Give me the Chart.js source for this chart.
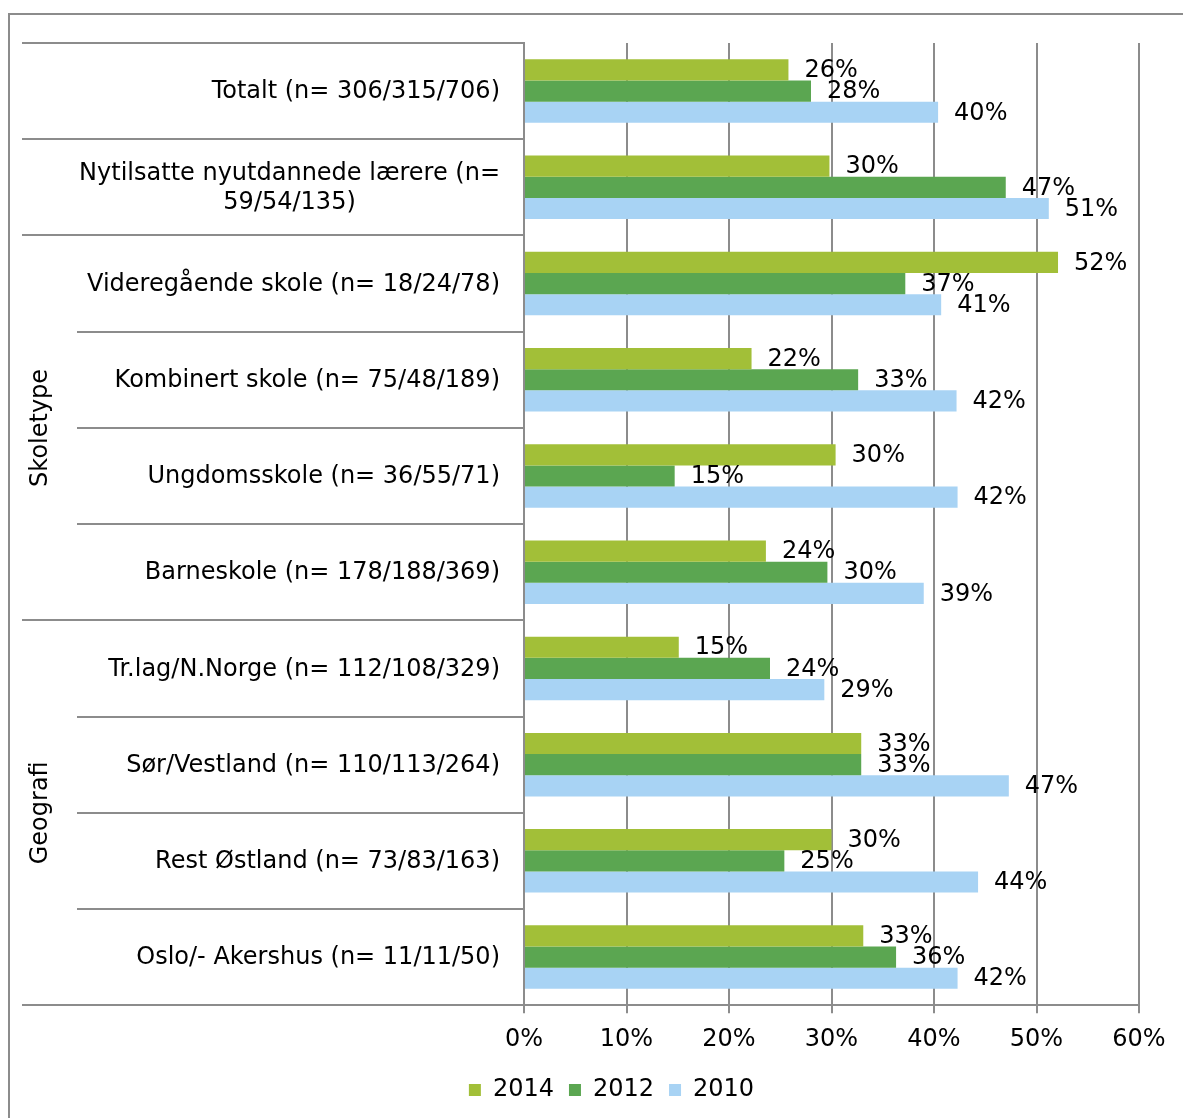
<!DOCTYPE html>
<html>
<head>
<meta charset="utf-8">
<script src="https://cdn.jsdelivr.net/npm/chart.js@4"></script>
<style>
  html, body { margin: 0; padding: 0; background: #fff; }
  #wrap { width: 1183px; height: 1118px; }
</style>
</head>
<body>
<div id="wrap"><canvas id="chart" width="1183" height="1118"></canvas></div>
<script>
/* ── Data ───────────────────────────────────────────────── */
const categories = [
  'Totalt (n= 306/315/706)',
  ['Nytilsatte nyutdannede lærere (n=', '59/54/135)'],
  'Videregående skole (n= 18/24/78)',
  'Kombinert skole (n= 75/48/189)',
  'Ungdomsskole (n= 36/55/71)',
  'Barneskole (n= 178/188/369)',
  'Tr.lag/N.Norge (n= 112/108/329)',
  'Sør/Vestland (n= 110/113/264)',
  'Rest Østland (n= 73/83/163)',
  'Oslo/- Akershus (n= 11/11/50)'
];
const seriesNames = ['2014', '2012', '2010'];
const v2014 = [25.8, 29.8, 52.1, 22.2, 30.4, 23.6, 15.1, 32.9, 30.0, 33.1];
const v2012 = [28.0, 47.0, 37.2, 32.6, 14.7, 29.6, 24.0, 32.9, 25.4, 36.3];
const v2010 = [40.4, 51.2, 40.7, 42.2, 42.3, 39.0, 29.3, 47.3, 44.3, 42.3];
const xTicks = [0, 10, 20, 30, 40, 50, 60];

const groupNames = ['Skoletype', 'Geografi'];
const groupStart = [2, 6];
const groupEnd   = [5, 9];

/* ── Styles ─────────────────────────────────────────────── */
const COLORS = ['#a2bf38', '#5ba651', '#a8d3f4'];
const LINE   = '#8c8c8c';
const FONT   = 'DejaVu Sans';
const FS     = 24;
Chart.defaults.font.family = FONT;
Chart.defaults.font.size = FS;
Chart.defaults.color = '#000';

/* ── Frame, row separators, category + group labels, value labels ── */
const sidePlugin = {
  id: 'side',
  beforeDraw(chart) {
    const c = chart.ctx;
    c.save();
    c.strokeStyle = LINE;
    c.lineWidth = 2;
    c.beginPath();
    c.moveTo(9, 1118); c.lineTo(9, 14); c.lineTo(1183, 14);
    c.stroke();
    c.restore();
  },
  afterDraw(chart) {
    const c = chart.ctx;
    const y = chart.scales.y;
    const area = chart.chartArea;
    const n = categories.length;
    const step = (area.bottom - area.top) / n;

    // row separators: long at group edges, short inside a group
    c.save();
    c.strokeStyle = LINE;
    c.lineWidth = 2;
    for (let i = 0; i <= n; i++) {
      const yy = Math.round(area.top + i * step);
      const inner = groupStart.some((s, k) => i > s && i <= groupEnd[k]);
      c.beginPath();
      c.moveTo(inner ? 77 : 22, yy);
      c.lineTo(area.left, yy);
      c.stroke();
    }
    c.restore();

    // category labels
    c.save();
    c.font = FS + 'px "' + FONT + '"';
    c.fillStyle = '#000';
    c.textBaseline = 'middle';
    const right = area.left - 24;
    categories.forEach((lab, i) => {
      const cy = y.getPixelForValue(i) + 1;
      if (Array.isArray(lab)) {
        const w = Math.max(...lab.map(s => c.measureText(s).width));
        const cx = right - w / 2;
        const lh = 29;
        c.textAlign = 'center';
        lab.forEach((s, k) => c.fillText(s, cx, cy + (k - (lab.length - 1) / 2) * lh));
      } else {
        c.textAlign = 'right';
        c.fillText(lab, right, cy);
      }
    });

    // group labels
    groupNames.forEach((g, k) => {
      const top = y.getPixelForValue(groupStart[k]) - step / 2;
      const bot = y.getPixelForValue(groupEnd[k]) + step / 2;
      c.save();
      c.translate(41, (top + bot) / 2);
      c.rotate(-Math.PI / 2);
      c.textAlign = 'center';
      c.textBaseline = 'middle';
      c.fillText(g, 0, 0);
      c.restore();
    });

    // value labels
    c.textAlign = 'left';
    c.textBaseline = 'middle';
    chart.data.datasets.forEach((ds, di) => {
      chart.getDatasetMeta(di).data.forEach((bar, i) => {
        c.fillText(Math.round(ds.data[i]) + '%', bar.x + 16, bar.y + 1);
      });
    });
    c.restore();
  }
};

new Chart(document.getElementById('chart'), {
  type: 'bar',
  data: {
    labels: categories,
    datasets: [
      { label: seriesNames[0], data: v2014, backgroundColor: COLORS[0] },
      { label: seriesNames[1], data: v2012, backgroundColor: COLORS[1] },
      { label: seriesNames[2], data: v2010, backgroundColor: COLORS[2] }
    ]
  },
  options: {
    indexAxis: 'y',
    responsive: false,
    animation: false,
    layout: { padding: { left: 84, right: 44, top: 43, bottom: 6 } },
    datasets: { bar: { barPercentage: 1, categoryPercentage: 0.66, borderWidth: 0 } },
    scales: {
      x: {
        min: 0, max: 60,
        afterBuildTicks: s => { s.ticks = xTicks.map(v => ({ value: v })); },
        afterFit: s => { s.height -= 3; },
        ticks: { callback: v => v + '%', padding: 12, color: '#000', font: { size: FS } },
        grid: { color: LINE, lineWidth: 2, tickLength: 8 },
        border: { color: LINE, width: 2 }
      },
      y: {
        ticks: { display: false },
        grid: { display: false },
        border: { color: LINE, width: 2 },
        afterFit: s => { s.width = 440; }
      }
    },
    plugins: {
      legend: {
        position: 'bottom',
        labels: { boxWidth: 12, boxHeight: 12, padding: 15, color: '#000', font: { size: FS } }
      },
      tooltip: { enabled: false }
    }
  },
  plugins: [sidePlugin]
});
</script>
</body>
</html>
